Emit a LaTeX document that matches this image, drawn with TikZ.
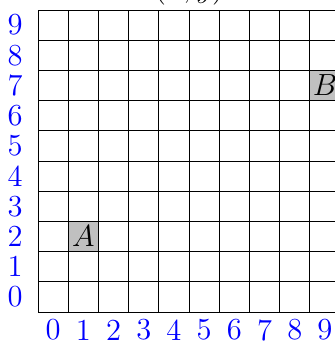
\documentclass[tikz,border=0pt]{standalone}
\usetikzlibrary{positioning}
\definecolor{LabelBlue}{HTML}{0000FF}
\definecolor{CellGray}{HTML}{C0C0C0}

\begin{document}
\begin{tikzpicture}[x=0.5cm,y=0.5cm,font=\Large]
    \useasboundingbox (-1.26,-1.16) rectangle (9.83,10.33);
    % marked cells
    \node[
      fill=CellGray,
      minimum width=0.5cm,
      minimum height=0.5cm,
      inner sep=0pt
    ] (A) at (1.5,2.5) {$A$};
    \node[
      fill=CellGray,
      minimum width=0.5cm,
      minimum height=0.5cm,
      inner sep=0pt
    ] (B) at (9.5,7.5) {$B$};

    \draw[thin,step=0.5cm] (0,0) grid (10,10);

    % axis numbers
    \foreach \i in {0,...,9} {
      \node[text=LabelBlue] (row\i) at (-0.76,\i+0.5) {\i};
      \node[text=LabelBlue] (col\i) at (\i+0.5,-0.6) {\i};
    }

    \node[anchor=base] (top) at (5,10.4) {$(x,y)$};
  \end{tikzpicture}
\end{document}
